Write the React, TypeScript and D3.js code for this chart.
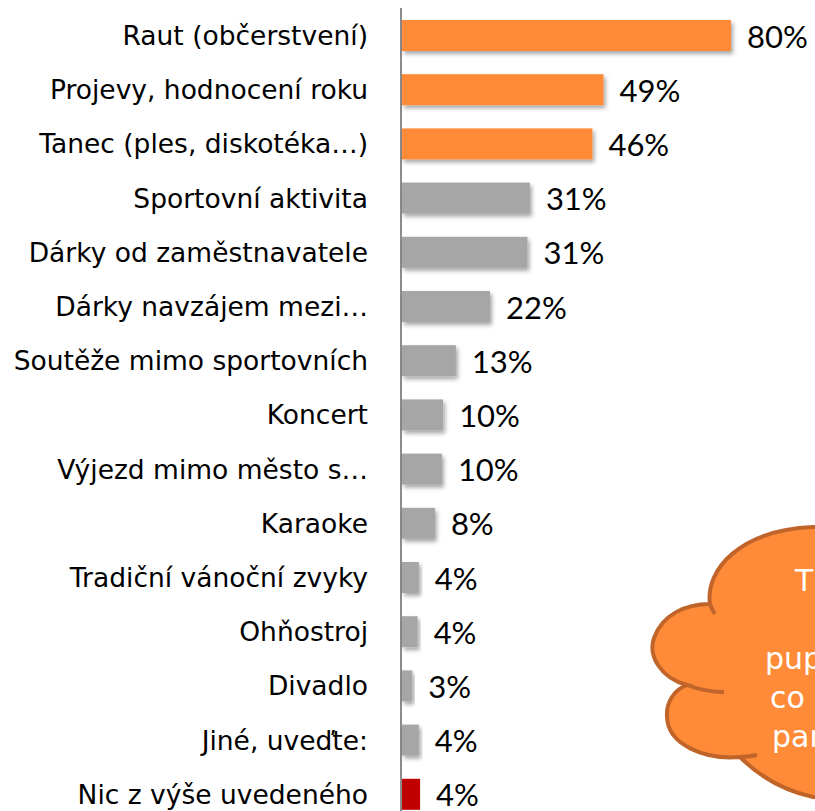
import React from "react";
import * as d3 from "d3";

const categories = [
  "Raut (občerstvení)",
  "Projevy, hodnocení roku",
  "Tanec (ples, diskotéka…)",
  "Sportovní aktivita",
  "Dárky od zaměstnavatele",
  "Dárky navzájem mezi…",
  "Soutěže mimo sportovních",
  "Koncert",
  "Výjezd mimo město s…",
  "Karaoke",
  "Tradiční vánoční zvyky",
  "Ohňostroj",
  "Divadlo",
  "Jiné, uveďte:",
  "Nic z výše uvedeného",
];
const values = [80.0, 49.0, 46.3, 31.1, 30.5, 21.4, 13.1, 10.0, 9.7, 8.0, 4.1, 3.8, 2.5, 4.1, 4.4];
const labels = ["80%", "49%", "46%", "31%", "31%", "22%", "13%", "10%", "10%", "8%", "4%", "4%", "3%", "4%", "4%"];
const groups = ["top", "top", "top", "mid", "mid", "mid", "mid", "mid", "mid", "mid", "mid", "mid", "mid", "mid", "none"];
const cloudLines = ["T", "", "pup", "co", "par"];

const W = 815;
const H = 811;
const colorOf: Record<string, string> = { top: "#FF8A38", mid: "#A6A6A6", none: "#C00000" };

export default function App() {
  const x = d3.scaleLinear().domain([0, 80]).range([402, 731]);
  const y = d3
    .scaleBand<string>()
    .domain(categories)
    .range([8.4, 821.4])
    .paddingInner(0.428)
    .paddingOuter(0.214);

  const cloudPath =
    "M 813,527 C 900,527 900,800 813,797 " +
    "C 790,792 765,782 740,757 " +
    "C 705,760 668,745 667,717 " +
    "C 666,702 674,690 687,685 " +
    "C 660,678 648,655 654,638 " +
    "C 662,615 685,604 710,604 " +
    "C 705,570 740,530 813,527 Z";
  const stubs = "M 710,604 C 711,608 713,611 715,614 M 687,685 C 700,690 712,692 724,692 M 740,757 C 746,757 752,756 757,755";

  return (
    <div style={{ position: "fixed", left: 0, top: 0, width: W, height: H, background: "#fff" }}>
      <svg width={W} height={H} style={{ display: "block" }}>
        <defs>
          <filter id="shadow" x="-10%" y="-30%" width="130%" height="180%">
            <feDropShadow dx="2" dy="3" stdDeviation="2" floodColor="#000" floodOpacity="0.35" />
          </filter>
        </defs>
        <line x1={401} x2={401} y1={8} y2={H} stroke="#8C8C8C" strokeWidth={2} />
        {categories.map((c, i) => (
          <g key={c}>
            <rect
              x={x(0)}
              y={y(c)!}
              width={x(values[i]) - x(0)}
              height={y.bandwidth()}
              fill={colorOf[groups[i]]}
              filter={groups[i] === "none" ? undefined : "url(#shadow)"}
            />
            <text
              x={368}
              y={y(c)! + y.bandwidth() / 2}
              textAnchor="end"
              dominantBaseline="central"
              fontFamily="'DejaVu Sans', sans-serif"
              fontSize={26.5}
              fill="#000"
            >
              {c}
            </text>
            <text
              x={x(values[i]) + 16}
              y={y(c)! + y.bandwidth() / 2}
              dominantBaseline="central"
              fontFamily="Lato, 'Open Sans', sans-serif"
              fontSize={31}
              fill="#000"
            >
              {labels[i]}
            </text>
          </g>
        ))}
        <path d={cloudPath} fill="#FF8A38" stroke="#C0642A" strokeWidth={4} />
        <path d={stubs} fill="none" stroke="#C0642A" strokeWidth={4} />
        {cloudLines.map((t, i) => (
          <text
            key={i}
            x={[795, 0, 765, 770, 772][i]}
            y={580 + i * 39}
            dominantBaseline="central"
            fontFamily="'DejaVu Sans', sans-serif"
            fontSize={30}
            fill="#fff"
          >
            {t}
          </text>
        ))}
      </svg>
    </div>
  );
}
